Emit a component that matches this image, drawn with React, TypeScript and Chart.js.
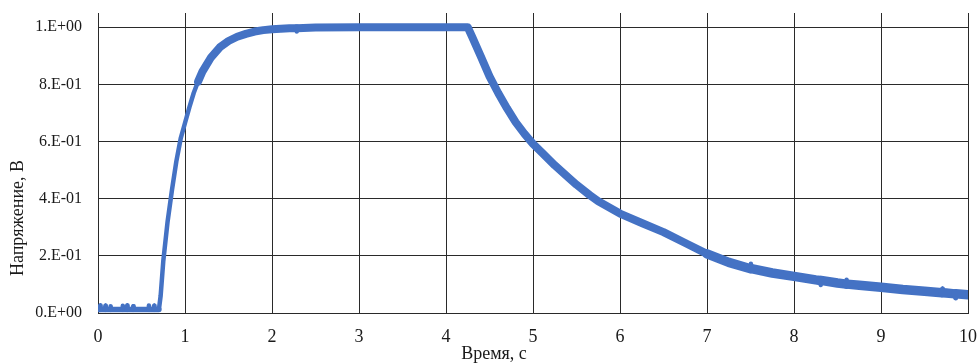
import { useEffect, useRef } from "react";
import { Chart, registerables } from "chart.js";

Chart.register(...registerables);

// Recorded transient: time (s) and measured voltage (V)
const timeS = [
  0, 0.02, 0.025, 0.03, 0.08, 0.085, 0.09, 0.14, 0.145, 0.15, 0.2, 0.28, 0.285, 0.29,
  0.33, 0.335, 0.34, 0.4, 0.405, 0.41, 0.5, 0.58, 0.585, 0.59, 0.64, 0.645, 0.65, 0.7,
  0.72, 0.75, 0.8, 0.85, 0.9, 0.95, 1.0, 1.05, 1.1, 1.15, 1.2, 1.3, 1.4, 1.5, 1.6, 1.7,
  1.8, 1.9, 2.0, 2.2, 2.28, 2.285, 2.29, 2.5, 3.0, 3.5, 4.0, 4.25,
  4.3, 4.4, 4.5, 4.6, 4.7, 4.8, 4.9, 5.0, 5.1, 5.25, 5.4, 5.5, 5.65, 5.75, 6.0, 6.25,
  6.5, 6.75, 7.0, 7.25, 7.5, 7.505, 7.51, 7.75, 8.0, 8.25, 8.3, 8.305, 8.31, 8.5,
  8.6, 8.605, 8.61, 8.75, 9.0, 9.25, 9.5, 9.7, 9.705, 9.71, 9.75, 9.85, 9.855, 9.86, 10.0,
];

const voltageV = [
  0.012, 0.012, 0.026, 0.012, 0.012, 0.025, 0.012, 0.012, 0.024, 0.012, 0.012, 0.012, 0.025, 0.012,
  0.012, 0.026, 0.012, 0.012, 0.024, 0.012, 0.012, 0.012, 0.026, 0.012, 0.012, 0.025, 0.012, 0.012,
  0.06, 0.18, 0.32, 0.43, 0.53, 0.61, 0.665, 0.72, 0.77, 0.81, 0.845, 0.895, 0.93, 0.952, 0.967, 0.977,
  0.985, 0.99, 0.993, 0.997, 0.997, 0.985, 0.997, 0.999, 1.0, 1.0, 1.0, 1.0,
  0.967, 0.898, 0.828, 0.77, 0.717, 0.668, 0.628, 0.592, 0.562, 0.517, 0.476, 0.449, 0.413, 0.391, 0.348, 0.315,
  0.283, 0.245, 0.207, 0.177, 0.155, 0.172, 0.155, 0.14, 0.128, 0.116, 0.114, 0.098, 0.114, 0.105,
  0.101, 0.116, 0.101, 0.097, 0.09, 0.082, 0.076, 0.071, 0.085, 0.071, 0.07, 0.067, 0.052, 0.067, 0.064,
];

const xTickValues = [0, 1, 2, 3, 4, 5, 6, 7, 8, 9, 10];
const yTickValues = [0, 0.2, 0.4, 0.6, 0.8, 1.0];

const xAxisTitle = "Время, с";
const yAxisTitle = "Напряжение, В";

const SERIF = "'Liberation Serif', 'Times New Roman', serif";
const INK = "#1a1a1a";
const GRID = "#2a2a2a";
const LINE = "#4472C4";

// Excel-style "2.E-01" labels
function sciLabel(v: number): string {
  if (Math.abs(v) < 1e-9) return "0.E+00";
  const exp = Math.floor(Math.log10(v) + 1e-9);
  const mant = Math.round(v / Math.pow(10, exp));
  const sign = exp < 0 ? "-" : "+";
  const e = String(Math.abs(exp)).padStart(2, "0");
  return `${mant}.E${sign}${e}`;
}

const axisTitles = {
  id: "axisTitles",
  afterDraw(chart: Chart) {
    const { ctx, chartArea } = chart;
    ctx.save();
    ctx.fillStyle = INK;
    ctx.font = `18px ${SERIF}`;
    ctx.textAlign = "center";
    ctx.textBaseline = "middle";
    ctx.fillText(xAxisTitle, chartArea.left + 396, chartArea.bottom + 41);
    ctx.translate(18.5, chartArea.top + 205);
    ctx.rotate(-Math.PI / 2);
    ctx.fillText(yAxisTitle, 0, 0);
    ctx.restore();
  },
};

export default function App() {
  const ref = useRef<HTMLCanvasElement | null>(null);

  useEffect(() => {
    const canvas = ref.current;
    if (!canvas) return;
    const points = timeS.map((t, i) => ({ x: t, y: voltageV[i] }));

    const chart = new Chart(canvas, {
      type: "line",
      data: {
        datasets: [
          {
            data: points,
            borderColor: LINE,
            backgroundColor: LINE,
            borderWidth: 7,
            borderCapStyle: "round",
            borderJoinStyle: "round",
            pointRadius: 0,
            tension: 0,
            segment: {
              borderWidth: (c: any) => {
                const dx = Math.abs(c.p1.x - c.p0.x);
                const dy = Math.abs(c.p1.y - c.p0.y);
                if (dy > 2.5 * dx) return 4.5;
                if (c.p0.parsed.x < 0.7) return 5.5;
                if (c.p0.parsed.x >= 7) return 9.5;
                return 8;
              },
            },
          },
        ],
      },
      options: {
        responsive: false,
        animation: false,
        devicePixelRatio: 1,
        layout: { padding: { left: 0, right: 12, top: 13, bottom: 0 } },
        plugins: { legend: { display: false }, tooltip: { enabled: false }, title: { display: false } },
        scales: {
          x: {
            type: "linear",
            min: 0,
            max: 10,
            afterFit: (s: any) => {
              s.height = 51;
              s.paddingLeft = 0;
              s.paddingRight = 0;
            },
            afterBuildTicks: (s: any) => {
              s.ticks = xTickValues.map((v) => ({ value: v }));
            },
            ticks: {
              color: INK,
              font: { family: SERIF, size: 18 },
              padding: 13,
              maxRotation: 0,
              callback: (v: any) => String(v),
            },
            grid: { color: GRID, lineWidth: 1, drawTicks: false },
            border: { color: GRID, width: 1 },
          },
          y: {
            type: "linear",
            min: 0,
            max: 1.05,
            afterFit: (s: any) => {
              s.width = 98;
              s.paddingTop = 0;
              s.paddingBottom = 0;
            },
            afterBuildTicks: (s: any) => {
              s.ticks = yTickValues.map((v) => ({ value: v }));
            },
            ticks: {
              color: INK,
              font: { family: SERIF, size: 16 },
              padding: 16,
              callback: (v: any) => sciLabel(Number(v)),
            },
            grid: { color: GRID, lineWidth: 1, drawTicks: false },
            border: { color: GRID, width: 1 },
          },
        },
      },
      plugins: [axisTitles],
    });

    return () => chart.destroy();
  }, []);

  return (
    <div style={{ position: "absolute", left: 0, top: 0, width: 980, height: 364, background: "#fff" }}>
      <canvas ref={ref} width={980} height={364} style={{ display: "block" }} />
    </div>
  );
}
